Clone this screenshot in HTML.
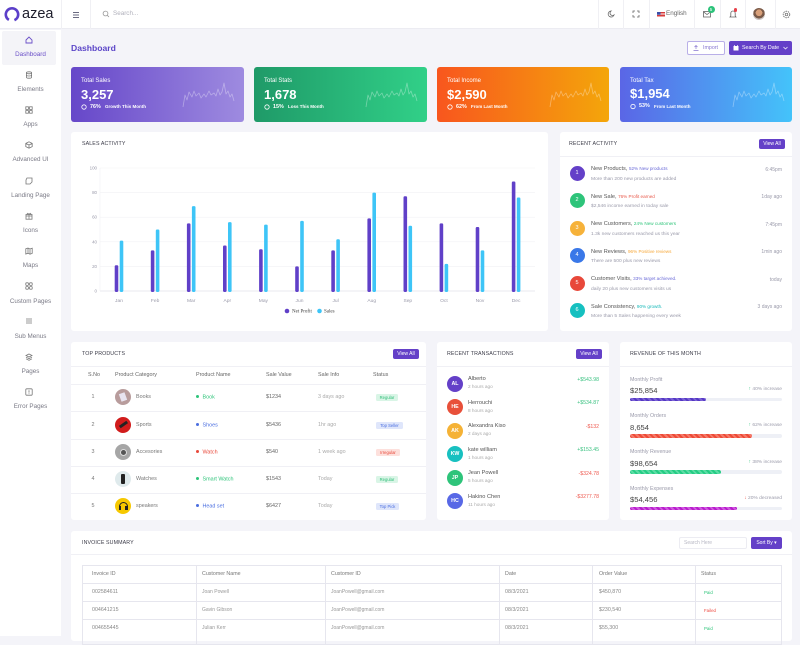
<!DOCTYPE html>
<html><head><meta charset="utf-8">
<style>
*{margin:0;padding:0;box-sizing:border-box}
body{width:800px;height:636px;overflow:hidden;background:#f4f4f9;font-family:"Liberation Sans",sans-serif;position:relative;color:#555}
.a{position:absolute;white-space:nowrap;line-height:1}
.c{position:absolute;background:#fff;border-radius:3px}
.tt{font-size:5.3px;color:#3d3d4a;letter-spacing:.1px}
.vl{position:absolute;top:0;width:1px;height:29px;background:#f0f0f4}
.sl{font-size:6.3px;color:#7a7a86;width:61px;text-align:center;left:0}
.btn{position:absolute;background:#6440c8;color:#fff;border-radius:2px;font-size:5px;text-align:center;line-height:10px;height:10px}
.hl{position:absolute;height:1px;background:#f0f0f5}
.w{color:#fff}
.bd{position:absolute;height:7px;border-radius:1.5px;font-size:4.2px;line-height:7px;text-align:center}
</style></head><body>

<!-- header -->
<div class="a" style="left:0;top:0;width:800px;height:29px;background:#fff;border-bottom:1px solid #ececf2"></div>
<svg class="a" style="left:3px;top:6px" width="18" height="18" viewBox="0 0 18 18"><circle cx="9" cy="8.5" r="6.2" fill="none" stroke="#5b3fc9" stroke-width="2.6" stroke-dasharray="33 6" transform="rotate(120 9 8.5)"/></svg>
<div class="a" style="left:22px;top:6.5px;font-size:14.5px;color:#1d1d2b">azea</div>
<div class="vl" style="left:61px"></div>
<div class="vl" style="left:90px"></div>
<svg class="a" style="left:72px;top:11px" width="8" height="8"><path d="M1 1.5h6M1 4h6M1 6.5h6" stroke="#6a6a80" stroke-width="1"/></svg>
<svg class="a" style="left:102px;top:10px" width="8" height="8"><circle cx="3.5" cy="3.5" r="2.4" fill="none" stroke="#999" stroke-width=".8"/><path d="M5.3 5.3L7 7" stroke="#999" stroke-width=".8"/></svg>
<div class="a" style="left:113px;top:11px;font-size:6.3px;color:#b0b0bb">Search...</div>

<div class="vl" style="left:598px"></div><div class="vl" style="left:623px"></div><div class="vl" style="left:649px"></div><div class="vl" style="left:694px"></div><div class="vl" style="left:720px"></div><div class="vl" style="left:745px"></div><div class="vl" style="left:775px"></div>
<svg class="a" style="left:607px;top:10px" width="8" height="8"><path d="M4 1A3 3 0 1 0 7 5 2.4 2.4 0 0 1 4 1z" fill="none" stroke="#666" stroke-width=".8"/></svg>
<svg class="a" style="left:632px;top:10px" width="8" height="8"><path d="M1 3V1h2M5 1h2v2M7 5v2H5M3 7H1V5" fill="none" stroke="#666" stroke-width=".8"/></svg>
<svg class="a" style="left:657px;top:11.5px" width="8" height="5"><rect width="8" height="5" fill="#d63a3a"/><path d="M0 1.25h8M0 2.75h8M0 4.25h8" stroke="#fff" stroke-width=".5"/><rect width="3.5" height="2.8" fill="#3b4ea8"/></svg>
<div class="a" style="left:666px;top:11px;font-size:6.3px;color:#666">English</div>
<svg class="a" style="left:703px;top:11px" width="8" height="7"><rect x=".5" y=".5" width="7" height="5.5" fill="none" stroke="#666" stroke-width=".8"/><path d="M.5 .8L4 3.5 7.5 .8" fill="none" stroke="#666" stroke-width=".7"/></svg>
<div class="a" style="left:707.5px;top:6px;width:7px;height:7px;border-radius:50%;background:#2cc37a;color:#fff;font-size:4.5px;line-height:7px;text-align:center">5</div>
<svg class="a" style="left:729px;top:10px" width="8" height="9"><path d="M4 1C2.5 1 1.8 2.3 1.8 3.5V6L1 7h6L6.2 6V3.5C6.2 2.3 5.5 1 4 1z" fill="none" stroke="#666" stroke-width=".8"/></svg>
<div class="a" style="left:733.5px;top:8px;width:3.5px;height:3.5px;border-radius:50%;background:#e8404a"></div>
<div class="a" style="left:753px;top:8px;width:12px;height:12px;border-radius:50%;background:radial-gradient(circle at 50% 40%,#d9a07a 0 35%,#7a5a48 36% 60%,#c9c2c0 61%)"></div>
<svg class="a" style="left:782px;top:10px" width="9" height="9"><circle cx="4.5" cy="4.5" r="3.3" fill="none" stroke="#666" stroke-width=".8" stroke-dasharray="1.6 .8"/><circle cx="4.5" cy="4.5" r="1.3" fill="none" stroke="#666" stroke-width=".7"/></svg>

<!-- sidebar -->
<div class="a" style="left:0;top:30px;width:61px;height:606px;background:#fff"></div>
<div class="a" style="left:2px;top:31px;width:54px;height:34px;background:#f4f4f8;border-radius:2px"></div>
<svg class="a" style="left:25px;top:36px" width="8" height="8"><path d="M1 4L4 1l3 3v3H1z" fill="none" stroke="#6a4fc8" stroke-width=".9"/></svg>
<div class="a sl" style="top:52px;color:#6a4fc8">Dashboard</div>
<svg class="a" style="left:25px;top:71px" width="8" height="8"><ellipse cx="4" cy="1.8" rx="2.6" ry="1" fill="none" stroke="#777" stroke-width=".8"/><path d="M1.4 1.8v4.4c0 .6 1.2 1 2.6 1s2.6-.4 2.6-1V1.8M1.4 4c0 .6 1.2 1 2.6 1s2.6-.4 2.6-1" fill="none" stroke="#777" stroke-width=".8"/></svg>
<div class="a sl" style="top:87px">Elements</div>
<svg class="a" style="left:25px;top:106px" width="8" height="8"><rect x=".8" y=".8" width="2.6" height="2.6" fill="none" stroke="#777" stroke-width=".8"/><rect x="4.6" y=".8" width="2.6" height="2.6" fill="none" stroke="#777" stroke-width=".8"/><rect x=".8" y="4.6" width="2.6" height="2.6" fill="none" stroke="#777" stroke-width=".8"/><rect x="4.6" y="4.6" width="2.6" height="2.6" fill="none" stroke="#777" stroke-width=".8"/></svg>
<div class="a sl" style="top:122px">Apps</div>
<svg class="a" style="left:25px;top:141px" width="8" height="8"><path d="M4 .8L7.2 2.4V5.6L4 7.2.8 5.6V2.4z M.8 2.4L4 4l3.2-1.6M4 4v3.2" fill="none" stroke="#777" stroke-width=".8"/></svg>
<div class="a sl" style="top:157px">Advanced UI</div>
<svg class="a" style="left:25px;top:177px" width="8" height="8"><path d="M2 1h5v4L5 7H1V3z" fill="none" stroke="#777" stroke-width=".8"/></svg>
<div class="a sl" style="top:193px">Landing Page</div>
<svg class="a" style="left:25px;top:212px" width="8" height="8"><rect x="1" y="2.5" width="6" height="4.7" fill="none" stroke="#777" stroke-width=".8"/><path d="M4 2.5v4.7M1 4h6M4 2.5C3 .5 1.5 1 2.5 2.5M4 2.5C5 .5 6.5 1 5.5 2.5" fill="none" stroke="#777" stroke-width=".7"/></svg>
<div class="a sl" style="top:228px">Icons</div>
<svg class="a" style="left:25px;top:247px" width="8" height="8"><path d="M.8 1.8L3 1l2 1 2.2-.8v5.2L5 7.2l-2-1-2.2.8zM3 1v5.2M5 2v5.2" fill="none" stroke="#777" stroke-width=".8"/></svg>
<div class="a sl" style="top:263px">Maps</div>
<svg class="a" style="left:25px;top:282px" width="8" height="8"><rect x=".8" y=".8" width="2.6" height="2.6" rx=".6" fill="none" stroke="#777" stroke-width=".8"/><rect x="4.6" y=".8" width="2.6" height="2.6" rx=".6" fill="none" stroke="#777" stroke-width=".8"/><rect x=".8" y="4.6" width="2.6" height="2.6" rx=".6" fill="none" stroke="#777" stroke-width=".8"/><rect x="4.6" y="4.6" width="2.6" height="2.6" rx=".6" fill="none" stroke="#777" stroke-width=".8"/></svg>
<div class="a sl" style="top:299px">Custom Pages</div>
<svg class="a" style="left:25px;top:317px" width="8" height="8"><path d="M1 2h6M1 4h6M1 6h6" stroke="#777" stroke-width=".8"/></svg>
<div class="a sl" style="top:334px">Sub Menus</div>
<svg class="a" style="left:25px;top:353px" width="8" height="8"><path d="M4 1L7 2.5 4 4 1 2.5z M1 4.2L4 5.7 7 4.2M1 5.8L4 7.3 7 5.8" fill="none" stroke="#777" stroke-width=".8"/></svg>
<div class="a sl" style="top:369px">Pages</div>
<svg class="a" style="left:25px;top:388px" width="8" height="8"><rect x=".8" y=".8" width="6.4" height="6.4" rx="1" fill="none" stroke="#777" stroke-width=".8"/><path d="M4 2.2v2.4M4 5.4v.6" stroke="#777" stroke-width=".8"/></svg>
<div class="a sl" style="top:404px">Error Pages</div>

<!-- title row -->
<div class="a" style="left:71px;top:43.5px;font-size:8.6px;font-weight:bold;color:#5b45c8">Dashboard</div>
<div class="a" style="left:687px;top:41px;width:38px;height:14px;border:1px solid #b9afe8;border-radius:2px;background:#fff"></div>
<svg class="a" style="left:693px;top:45px" width="6" height="6"><path d="M3 .5v3.5M1.5 2L3 .5 4.5 2M.5 5.5h5" fill="none" stroke="#8877d0" stroke-width=".7"/></svg>
<div class="a" style="left:703px;top:45.5px;font-size:5.3px;color:#8877d0">Import</div>
<div class="a" style="left:729px;top:41px;width:63px;height:14px;border-radius:2px;background:#6440c8"></div>
<svg class="a" style="left:733px;top:44.5px" width="6" height="6"><rect x=".5" y="1" width="5" height="4.5" fill="#fff"/><path d="M1.5 0v1.5M4.5 0v1.5" stroke="#fff" stroke-width=".7"/></svg>
<div class="a" style="left:742px;top:45.5px;font-size:5.3px;color:#fff">Search By Date</div>
<svg class="a" style="left:783px;top:46px" width="5" height="4"><path d="M.5 1L2.5 3 4.5 1" fill="none" stroke="#fff" stroke-width=".7"/></svg>

<!-- stat cards -->
<div class="c" style="left:71px;top:67px;width:173px;height:55px;background:linear-gradient(90deg,#6647c9,#9e8be0)"></div>
<div class="c" style="left:254px;top:67px;width:173px;height:55px;background:linear-gradient(90deg,#1f9a68,#31d088)"></div>
<div class="c" style="left:437px;top:67px;width:172px;height:55px;background:linear-gradient(90deg,#f8561e,#f4a60a)"></div>
<div class="c" style="left:620px;top:67px;width:172px;height:55px;background:linear-gradient(90deg,#5a66e6,#44c3fa)"></div>

<div class="a w" style="left:81px;top:78px;font-size:6px">Total Sales</div>
<div class="a w" style="left:81px;top:87.5px;font-size:13px;font-weight:bold">3,257</div>
<div class="a w" style="left:264px;top:78px;font-size:6px">Total Stats</div>
<div class="a w" style="left:264px;top:87.5px;font-size:13px;font-weight:bold">1,678</div>
<div class="a w" style="left:447px;top:78px;font-size:6px">Total Income</div>
<div class="a w" style="left:447px;top:87.5px;font-size:13px;font-weight:bold">$2,590</div>
<div class="a w" style="left:630px;top:77.5px;font-size:6px">Total Tax</div>
<div class="a w" style="left:630px;top:87px;font-size:13px;font-weight:bold">$1,954</div>

<svg class="a" style="left:0;top:0" width="800" height="130" viewBox="0 0 800 130">
<g fill="none" stroke="#fff" stroke-width=".8">
<circle cx="84" cy="107" r="2.2"/><circle cx="267" cy="107" r="2.2"/><circle cx="450" cy="107" r="2.2"/><circle cx="633" cy="106.5" r="2.2"/>
</g>
<g fill="none" stroke="rgba(255,255,255,.35)" stroke-width=".8" stroke-linejoin="round">
<polyline transform="translate(183,83)" points="0,24 2,12 4,17 6,9 9,14 11,8 13,13 16,10 18,15 21,11 23,14 26,8 28,12 31,10 33,13 35,6 37,12 39,9 41,0 43,11 45,8 47,14 49,11 51,18"/>
<polyline transform="translate(366,83)" points="0,24 2,12 4,17 6,9 9,14 11,8 13,13 16,10 18,15 21,11 23,14 26,8 28,12 31,10 33,13 35,6 37,12 39,9 41,0 43,11 45,8 47,14 49,11 51,18"/>
<polyline transform="translate(550,83)" points="0,24 2,12 4,17 6,9 9,14 11,8 13,13 16,10 18,15 21,11 23,14 26,8 28,12 31,10 33,13 35,6 37,12 39,9 41,0 43,11 45,8 47,14 49,11 51,18"/>
<polyline transform="translate(733,83)" points="0,24 2,12 4,17 6,9 9,14 11,8 13,13 16,10 18,15 21,11 23,14 26,8 28,12 31,10 33,13 35,6 37,12 39,9 41,0 43,11 45,8 47,14 49,11 51,18"/>
</g>
</svg>
<div class="a w" style="left:90px;top:104.5px;font-size:5.4px;font-weight:bold">76%</div>
<div class="a w" style="left:105px;top:105px;font-size:4.5px;font-weight:bold">Growth This Month</div>
<div class="a w" style="left:273px;top:104.5px;font-size:5.4px;font-weight:bold">15%</div>
<div class="a w" style="left:288px;top:105px;font-size:4.5px;font-weight:bold">Loss This Month</div>
<div class="a w" style="left:456px;top:104.5px;font-size:5.4px;font-weight:bold">62%</div>
<div class="a w" style="left:471px;top:105px;font-size:4.5px;font-weight:bold">From Last Month</div>
<div class="a w" style="left:639px;top:104px;font-size:5.4px;font-weight:bold">53%</div>
<div class="a w" style="left:654px;top:104.5px;font-size:4.5px;font-weight:bold">From Last Month</div>

<!-- sales activity -->
<div class="c" style="left:71px;top:132px;width:477px;height:199px"></div>
<div class="a tt" style="left:82px;top:141.5px">SALES ACTIVITY</div>
<svg class="a" style="left:71px;top:132px" width="477" height="199" viewBox="71 132 477 199">
<g stroke="#f1f1f4" stroke-width=".6">
<path d="M100 168H535M100 192.6H535M100 217.2H535M100 241.8H535M100 266.4H535"/>
</g>
<path d="M100 291H535" stroke="#e2e2ea" stroke-width=".7"/>
<path d="M100 168V291" stroke="#f1f1f4" stroke-width=".6"/>
<g font-family="Liberation Sans" font-size="4.4" fill="#9a9aaa" text-anchor="end">
<text x="97" y="169.5">100</text><text x="97" y="194">80</text><text x="97" y="218.7">60</text><text x="97" y="243.3">40</text><text x="97" y="267.9">20</text><text x="97" y="292.5">0</text>
</g>
<g font-family="Liberation Sans" font-size="4.9" fill="#9a9aaa" text-anchor="middle">
<text x="119" y="301.8">Jan</text><text x="155.1" y="301.8">Feb</text><text x="191.2" y="301.8">Mar</text><text x="227.3" y="301.8">Apr</text><text x="263.4" y="301.8">May</text><text x="299.5" y="301.8">Jun</text><text x="335.6" y="301.8">Jul</text><text x="371.7" y="301.8">Aug</text><text x="407.8" y="301.8">Sep</text><text x="443.9" y="301.8">Oct</text><text x="480" y="301.8">Nov</text><text x="516.1" y="301.8">Dec</text>
</g>
<g fill="#6040c8">
<rect x="114.7" y="265.2" width="3.6" height="26.8" rx="1.2"/>
<rect x="150.8" y="250.4" width="3.6" height="41.6" rx="1.2"/>
<rect x="186.9" y="223.4" width="3.6" height="68.6" rx="1.2"/>
<rect x="223" y="245.5" width="3.6" height="46.5" rx="1.2"/>
<rect x="259.1" y="249.2" width="3.6" height="42.8" rx="1.2"/>
<rect x="295.2" y="266.4" width="3.6" height="25.6" rx="1.2"/>
<rect x="331.3" y="250.4" width="3.6" height="41.6" rx="1.2"/>
<rect x="367.4" y="218.4" width="3.6" height="73.6" rx="1.2"/>
<rect x="403.5" y="196.3" width="3.6" height="95.7" rx="1.2"/>
<rect x="439.6" y="223.4" width="3.6" height="68.6" rx="1.2"/>
<rect x="475.7" y="227" width="3.6" height="65" rx="1.2"/>
<rect x="511.8" y="181.5" width="3.6" height="110.5" rx="1.2"/>
</g>
<g fill="#3ec5f7">
<rect x="119.7" y="240.6" width="3.6" height="51.4" rx="1.2"/>
<rect x="155.8" y="229.5" width="3.6" height="62.5" rx="1.2"/>
<rect x="191.9" y="206.1" width="3.6" height="85.9" rx="1.2"/>
<rect x="228" y="222.1" width="3.6" height="69.9" rx="1.2"/>
<rect x="264.1" y="224.6" width="3.6" height="67.4" rx="1.2"/>
<rect x="300.2" y="220.9" width="3.6" height="71.1" rx="1.2"/>
<rect x="336.3" y="239.3" width="3.6" height="52.7" rx="1.2"/>
<rect x="372.4" y="192.6" width="3.6" height="99.4" rx="1.2"/>
<rect x="408.5" y="225.8" width="3.6" height="66.2" rx="1.2"/>
<rect x="444.6" y="263.9" width="3.6" height="28.1" rx="1.2"/>
<rect x="480.7" y="250.4" width="3.6" height="41.6" rx="1.2"/>
<rect x="516.8" y="197.5" width="3.6" height="94.5" rx="1.2"/>
</g>
<circle cx="287" cy="311" r="2.3" fill="#6040c8"/>
<circle cx="319.5" cy="311" r="2.3" fill="#3ec5f7"/>
<g font-family="Liberation Serif" font-size="5" fill="#444">
<text x="292" y="312.7">Net Profit</text><text x="324" y="312.7">Sales</text>
</g>
</svg>

<!-- recent activity -->
<div class="c" style="left:560px;top:132px;width:232px;height:199px"></div>
<div class="a tt" style="left:569px;top:141.5px">RECENT ACTIVITY</div>
<div class="btn" style="left:759px;top:139px;width:26px">View All</div>
<div class="hl" style="left:560px;top:156px;width:232px"></div>

<div class="a" style="left:569.5px;top:165.5px;width:15px;height:15px;border-radius:50%;background:#6440c8;color:#fff;font-size:5.5px;line-height:15px;text-align:center">1</div>
<div class="a" style="left:569.5px;top:193px;width:15px;height:15px;border-radius:50%;background:#2ec47a;color:#fff;font-size:5.5px;line-height:15px;text-align:center">2</div>
<div class="a" style="left:569.5px;top:220.5px;width:15px;height:15px;border-radius:50%;background:#f6b23a;color:#fff;font-size:5.5px;line-height:15px;text-align:center">3</div>
<div class="a" style="left:569.5px;top:248px;width:15px;height:15px;border-radius:50%;background:#3a78e8;color:#fff;font-size:5.5px;line-height:15px;text-align:center">4</div>
<div class="a" style="left:569.5px;top:275.5px;width:15px;height:15px;border-radius:50%;background:#e8483a;color:#fff;font-size:5.5px;line-height:15px;text-align:center">5</div>
<div class="a" style="left:569.5px;top:303px;width:15px;height:15px;border-radius:50%;background:#16c0c0;color:#fff;font-size:5.5px;line-height:15px;text-align:center">6</div>

<div class="a" style="left:591px;top:167px;font-size:5.6px;color:#555">New Products, <span style="font-size:4.6px;color:#6a6ad8">52% New products</span></div>
<div class="a" style="left:591px;top:177.5px;font-size:4.9px;color:#9a9aaa">More than 200 new products are added</div>
<div class="a" style="left:591px;top:194.5px;font-size:5.6px;color:#555">New Sale, <span style="font-size:4.6px;color:#e8584a">76% Profit earned</span></div>
<div class="a" style="left:591px;top:205px;font-size:4.9px;color:#9a9aaa">$2,546 income earned in today sale</div>
<div class="a" style="left:591px;top:222px;font-size:5.6px;color:#555">New Customers, <span style="font-size:4.6px;color:#2ec47a">24% New customers</span></div>
<div class="a" style="left:591px;top:232.5px;font-size:4.9px;color:#9a9aaa">1.3k new customers reached us this year</div>
<div class="a" style="left:591px;top:249.5px;font-size:5.6px;color:#555">New Reviews, <span style="font-size:4.6px;color:#f6a83a">96% Positive reviews</span></div>
<div class="a" style="left:591px;top:260px;font-size:4.9px;color:#9a9aaa">There are 500 plus new reviews</div>
<div class="a" style="left:591px;top:277px;font-size:5.6px;color:#555">Customer Visits, <span style="font-size:4.6px;color:#6a6ad8">33% target achieved.</span></div>
<div class="a" style="left:591px;top:287.5px;font-size:4.9px;color:#9a9aaa">daily 20 plus new customers visits us</div>
<div class="a" style="left:591px;top:304.5px;font-size:5.6px;color:#555">Sale Consistency, <span style="font-size:4.6px;color:#16b8b8">90% growth.</span></div>
<div class="a" style="left:591px;top:315px;font-size:4.9px;color:#9a9aaa">More than 5 Sales happening every week</div>

<div class="a" style="right:18px;top:167.5px;font-size:5px;color:#9a9aaa">6:45pm</div>
<div class="a" style="right:18px;top:195px;font-size:5px;color:#9a9aaa">1day ago</div>
<div class="a" style="right:18px;top:222.5px;font-size:5px;color:#9a9aaa">7:45pm</div>
<div class="a" style="right:18px;top:250px;font-size:5px;color:#9a9aaa">1min ago</div>
<div class="a" style="right:18px;top:277.5px;font-size:5px;color:#9a9aaa">today</div>
<div class="a" style="right:18px;top:305px;font-size:5px;color:#9a9aaa">3 days ago</div>

<!-- top products -->
<div class="c" style="left:71px;top:342px;width:355px;height:178px"></div>
<div class="a tt" style="left:82px;top:351.5px">TOP PRODUCTS</div>
<div class="btn" style="left:393px;top:349px;width:26px">View All</div>
<div class="hl" style="left:71px;top:366px;width:355px"></div>
<div class="hl" style="left:71px;top:384px;width:355px"></div>
<div class="hl" style="left:71px;top:411px;width:355px"></div>
<div class="hl" style="left:71px;top:439px;width:355px"></div>
<div class="hl" style="left:71px;top:466px;width:355px"></div>
<div class="hl" style="left:71px;top:493px;width:355px"></div>
<div class="a" style="left:88px;top:372.5px;font-size:5.4px;color:#666">S.No</div>
<div class="a" style="left:115px;top:372.5px;font-size:5.4px;color:#666">Product Category</div>
<div class="a" style="left:196px;top:372.5px;font-size:5.4px;color:#666">Product Name</div>
<div class="a" style="left:266px;top:372.5px;font-size:5.4px;color:#666">Sale Value</div>
<div class="a" style="left:318px;top:372.5px;font-size:5.4px;color:#666">Sale Info</div>
<div class="a" style="left:373px;top:372.5px;font-size:5.4px;color:#666">Status</div>

<div class="a" style="left:91.5px;top:394.5px;font-size:5.4px;color:#777">1</div>
<div class="a" style="left:91.5px;top:422.5px;font-size:5.4px;color:#777">2</div>
<div class="a" style="left:91.5px;top:449.5px;font-size:5.4px;color:#777">3</div>
<div class="a" style="left:91.5px;top:476.5px;font-size:5.4px;color:#777">4</div>
<div class="a" style="left:91.5px;top:503.5px;font-size:5.4px;color:#777">5</div>

<div class="a" style="left:115px;top:389px;width:16px;height:16px;border-radius:50%;background:#b89c9c"><div style="position:absolute;left:5px;top:4px;width:6px;height:8px;background:#e8e4f0;transform:rotate(-20deg)"></div></div>
<div class="a" style="left:115px;top:417px;width:16px;height:16px;border-radius:50%;background:#d11c1c"><div style="position:absolute;left:4px;top:6px;width:9px;height:3px;background:#222;transform:rotate(-35deg)"></div></div>
<div class="a" style="left:115px;top:444px;width:16px;height:16px;border-radius:50%;background:#a6a6a6"><div style="position:absolute;left:4.5px;top:4.5px;width:7px;height:7px;border-radius:50%;background:#555;border:1.2px solid #ddd"></div></div>
<div class="a" style="left:115px;top:471px;width:16px;height:16px;border-radius:50%;background:#dfeaec"><div style="position:absolute;left:6px;top:3px;width:4px;height:10px;border-radius:1px;background:#222"></div></div>
<div class="a" style="left:115px;top:498px;width:16px;height:16px;border-radius:50%;background:#f6c800"><div style="position:absolute;left:3.5px;top:3.5px;width:9px;height:9px;border-radius:50%;border:1.5px solid #222;border-bottom-color:transparent"></div><div style="position:absolute;left:3.5px;top:8px;width:2.5px;height:4px;background:#222"></div><div style="position:absolute;left:10px;top:8px;width:2.5px;height:4px;background:#222"></div></div>

<div class="a" style="left:136px;top:394.5px;font-size:5.4px;color:#777">Books</div>
<div class="a" style="left:136px;top:422.5px;font-size:5.4px;color:#777">Sports</div>
<div class="a" style="left:136px;top:449.5px;font-size:5.4px;color:#777">Accesories</div>
<div class="a" style="left:136px;top:476.5px;font-size:5.4px;color:#777">Watches</div>
<div class="a" style="left:136px;top:503.5px;font-size:5.4px;color:#777">speakers</div>

<div class="a" style="left:196px;top:394.5px;font-size:5.4px;color:#2ec47a"><span style="display:inline-block;width:3px;height:3px;border-radius:50%;background:#2ec47a;margin-right:3.5px;vertical-align:.5px"></span>Book</div>
<div class="a" style="left:196px;top:422.5px;font-size:5.4px;color:#4a6ee0"><span style="display:inline-block;width:3px;height:3px;border-radius:50%;background:#4a6ee0;margin-right:3.5px;vertical-align:.5px"></span>Shoes</div>
<div class="a" style="left:196px;top:449.5px;font-size:5.4px;color:#e8483a"><span style="display:inline-block;width:3px;height:3px;border-radius:50%;background:#e8483a;margin-right:3.5px;vertical-align:.5px"></span>Watch</div>
<div class="a" style="left:196px;top:476.5px;font-size:5.4px;color:#2ec47a"><span style="display:inline-block;width:3px;height:3px;border-radius:50%;background:#2ec47a;margin-right:3.5px;vertical-align:.5px"></span>Smart Watch</div>
<div class="a" style="left:196px;top:503.5px;font-size:5.4px;color:#4a6ee0"><span style="display:inline-block;width:3px;height:3px;border-radius:50%;background:#4a6ee0;margin-right:3.5px;vertical-align:.5px"></span>Head set</div>

<div class="a" style="left:266px;top:394.5px;font-size:5.4px;color:#666">$1234</div>
<div class="a" style="left:266px;top:422.5px;font-size:5.4px;color:#666">$5436</div>
<div class="a" style="left:266px;top:449.5px;font-size:5.4px;color:#666">$540</div>
<div class="a" style="left:266px;top:476.5px;font-size:5.4px;color:#666">$1543</div>
<div class="a" style="left:266px;top:503.5px;font-size:5.4px;color:#666">$6427</div>

<div class="a" style="left:318px;top:394.5px;font-size:5.4px;color:#aaa">3 days ago</div>
<div class="a" style="left:318px;top:422.5px;font-size:5.4px;color:#aaa">1hr ago</div>
<div class="a" style="left:318px;top:449.5px;font-size:5.4px;color:#aaa">1 week ago</div>
<div class="a" style="left:318px;top:476.5px;font-size:5.4px;color:#aaa">Today</div>
<div class="a" style="left:318px;top:503.5px;font-size:5.4px;color:#aaa">Today</div>

<div class="bd" style="left:376px;top:394px;width:22px;background:#d9f5e6;color:#2ebd78">Regular</div>
<div class="bd" style="left:376px;top:421.5px;width:27px;background:#dfe6fb;color:#4a6ee0">Top Seller</div>
<div class="bd" style="left:376px;top:449px;width:24px;background:#fde0dc;color:#e8483a">Irregular</div>
<div class="bd" style="left:376px;top:476px;width:22px;background:#d9f5e6;color:#2ebd78">Regular</div>
<div class="bd" style="left:376px;top:503px;width:23px;background:#dfe6fb;color:#4a6ee0">Top Pick</div>

<!-- recent transactions -->
<div class="c" style="left:437px;top:342px;width:172px;height:178px"></div>
<div class="a tt" style="left:447px;top:351.5px">RECENT TRANSACTIONS</div>
<div class="btn" style="left:576px;top:349px;width:26px">View All</div>
<div class="hl" style="left:437px;top:366px;width:172px"></div>

<div class="a" style="left:447px;top:376px;width:16px;height:16px;border-radius:50%;background:#6440c8;color:#fff;font-size:5.3px;font-weight:bold;line-height:16px;text-align:center">AL</div>
<div class="a" style="left:447px;top:399px;width:16px;height:16px;border-radius:50%;background:#e8503a;color:#fff;font-size:5.3px;font-weight:bold;line-height:16px;text-align:center">HE</div>
<div class="a" style="left:447px;top:422.5px;width:16px;height:16px;border-radius:50%;background:#f5b236;color:#fff;font-size:5.3px;font-weight:bold;line-height:16px;text-align:center">AK</div>
<div class="a" style="left:447px;top:446px;width:16px;height:16px;border-radius:50%;background:#18c0c0;color:#fff;font-size:5.3px;font-weight:bold;line-height:16px;text-align:center">KW</div>
<div class="a" style="left:447px;top:469.5px;width:16px;height:16px;border-radius:50%;background:#2ec47a;color:#fff;font-size:5.3px;font-weight:bold;line-height:16px;text-align:center">JP</div>
<div class="a" style="left:447px;top:493px;width:16px;height:16px;border-radius:50%;background:#5868e6;color:#fff;font-size:5.3px;font-weight:bold;line-height:16px;text-align:center">HC</div>

<div class="a" style="left:468px;top:377px;font-size:5.6px;color:#555">Alberto</div>
<div class="a" style="left:468px;top:385px;font-size:4.7px;color:#aaa">2 hours ago</div>
<div class="a" style="left:468px;top:400.5px;font-size:5.6px;color:#555">Herrouchi</div>
<div class="a" style="left:468px;top:408.5px;font-size:4.7px;color:#aaa">8 hours ago</div>
<div class="a" style="left:468px;top:424px;font-size:5.6px;color:#555">Alexandra Kiso</div>
<div class="a" style="left:468px;top:432px;font-size:4.7px;color:#aaa">2 days ago</div>
<div class="a" style="left:468px;top:447.5px;font-size:5.6px;color:#555">kate william</div>
<div class="a" style="left:468px;top:455.5px;font-size:4.7px;color:#aaa">1 hours ago</div>
<div class="a" style="left:468px;top:471px;font-size:5.6px;color:#555">Jean Powell</div>
<div class="a" style="left:468px;top:479px;font-size:4.7px;color:#aaa">5 hours ago</div>
<div class="a" style="left:468px;top:494.5px;font-size:5.6px;color:#555">Hakino Chen</div>
<div class="a" style="left:468px;top:502.5px;font-size:4.7px;color:#aaa">11 hours ago</div>

<div class="a" style="right:201px;top:377.5px;font-size:5.2px;color:#3cc282">+$543.98</div>
<div class="a" style="right:201px;top:401px;font-size:5.2px;color:#3cc282">+$534.87</div>
<div class="a" style="right:201px;top:424.5px;font-size:5.2px;color:#ee5a50">-$132</div>
<div class="a" style="right:201px;top:448px;font-size:5.2px;color:#3cc282">+$153.45</div>
<div class="a" style="right:201px;top:471.5px;font-size:5.2px;color:#ee5a50">-$324.78</div>
<div class="a" style="right:201px;top:495px;font-size:5.2px;color:#ee5a50">-$3277.78</div>

<!-- revenue -->
<div class="c" style="left:620px;top:342px;width:172px;height:178px"></div>
<div class="a tt" style="left:630px;top:351.5px">REVENUE OF THIS MONTH</div>
<div class="hl" style="left:620px;top:366px;width:172px"></div>

<div class="a" style="left:630px;top:377.5px;font-size:5.3px;color:#9a9aaa">Monthly Profit</div>
<div class="a" style="left:630px;top:387px;font-size:7.6px;color:#444">$25,854</div>
<div class="a" style="right:18px;top:387.5px;font-size:4.9px;color:#9a9aaa"><span style="color:#2ec47a;font-weight:bold">↑</span> 40% increase</div>
<div class="a" style="left:630px;top:397.5px;width:152px;height:3.5px;background:#eef0f6;border-radius:2px"></div>
<div class="a" style="left:630px;top:397.5px;width:76px;height:3.5px;border-radius:2px;background:repeating-linear-gradient(45deg,#5438c4 0 2px,#7b62d6 2px 4px)"></div>

<div class="a" style="left:630px;top:413.5px;font-size:5.3px;color:#9a9aaa">Monthly Orders</div>
<div class="a" style="left:630px;top:423.5px;font-size:7.6px;color:#444">8,654</div>
<div class="a" style="right:18px;top:424px;font-size:4.9px;color:#9a9aaa"><span style="color:#2ec47a;font-weight:bold">↑</span> 62% increase</div>
<div class="a" style="left:630px;top:434px;width:152px;height:3.5px;background:#eef0f6;border-radius:2px"></div>
<div class="a" style="left:630px;top:434px;width:122px;height:3.5px;border-radius:2px;background:repeating-linear-gradient(45deg,#ee4a36 0 2px,#f57a6a 2px 4px)"></div>

<div class="a" style="left:630px;top:450px;font-size:5.3px;color:#9a9aaa">Monthly Revenue</div>
<div class="a" style="left:630px;top:459.5px;font-size:7.6px;color:#444">$98,654</div>
<div class="a" style="right:18px;top:460.5px;font-size:4.9px;color:#9a9aaa"><span style="color:#2ec47a;font-weight:bold">↑</span> 38% increase</div>
<div class="a" style="left:630px;top:470px;width:152px;height:3.5px;background:#eef0f6;border-radius:2px"></div>
<div class="a" style="left:630px;top:470px;width:91px;height:3.5px;border-radius:2px;background:repeating-linear-gradient(45deg,#24cc84 0 2px,#5cdca4 2px 4px)"></div>

<div class="a" style="left:630px;top:486.5px;font-size:5.3px;color:#9a9aaa">Monthly Expenses</div>
<div class="a" style="left:630px;top:496px;font-size:7.6px;color:#444">$54,456</div>
<div class="a" style="right:18px;top:496.5px;font-size:4.9px;color:#9a9aaa"><span style="color:#ee5a50;font-weight:bold">↓</span> 20% decreased</div>
<div class="a" style="left:630px;top:506.5px;width:152px;height:3.5px;background:#eef0f6;border-radius:2px"></div>
<div class="a" style="left:630px;top:506.5px;width:107px;height:3.5px;border-radius:2px;background:repeating-linear-gradient(45deg,#b81ccc 0 2px,#d05ae0 2px 4px)"></div>

<!-- invoice summary -->
<div class="c" style="left:71px;top:531px;width:721px;height:110px"></div>
<div class="a tt" style="left:82px;top:540.5px">INVOICE SUMMARY</div>
<div class="a" style="left:679px;top:537px;width:68px;height:12px;border:1px solid #ececf2;border-radius:2px;background:#fff"></div>
<div class="a" style="left:684px;top:540.5px;font-size:5px;color:#b8b8c4">Search Here</div>
<div class="btn" style="left:751px;top:537px;width:31px;height:12px;line-height:12px">Sort By &#9662;</div>
<div class="hl" style="left:71px;top:554px;width:721px"></div>

<div class="a" style="left:82px;top:565px;width:700px;height:80px;border:1px solid #e6e6ee"></div>
<div class="hl" style="left:82px;top:583px;width:700px;background:#e6e6ee"></div>
<div class="hl" style="left:82px;top:601px;width:700px;background:#e6e6ee"></div>
<div class="hl" style="left:82px;top:619px;width:700px;background:#e6e6ee"></div>
<div class="a" style="left:196px;top:565px;width:1px;height:80px;background:#e6e6ee"></div>
<div class="a" style="left:325px;top:565px;width:1px;height:80px;background:#e6e6ee"></div>
<div class="a" style="left:499px;top:565px;width:1px;height:80px;background:#e6e6ee"></div>
<div class="a" style="left:592px;top:565px;width:1px;height:80px;background:#e6e6ee"></div>
<div class="a" style="left:695px;top:565px;width:1px;height:80px;background:#e6e6ee"></div>

<div class="a" style="left:92px;top:571.5px;font-size:5.3px;color:#777">Invoice ID</div>
<div class="a" style="left:202px;top:571.5px;font-size:5.3px;color:#777">Customer Name</div>
<div class="a" style="left:331px;top:571.5px;font-size:5.3px;color:#777">Customer ID</div>
<div class="a" style="left:505px;top:571.5px;font-size:5.3px;color:#777">Date</div>
<div class="a" style="left:599px;top:571.5px;font-size:5.3px;color:#777">Order Value</div>
<div class="a" style="left:701px;top:571.5px;font-size:5.3px;color:#777">Status</div>

<div class="a" style="left:92px;top:590px;font-size:5.3px;color:#888">002584611</div>
<div class="a" style="left:202px;top:590px;font-size:5px;color:#999">Joan Powell</div>
<div class="a" style="left:331px;top:590px;font-size:5px;color:#999">JoanPowell@gmail.com</div>
<div class="a" style="left:505px;top:590px;font-size:5.3px;color:#888">08/3/2021</div>
<div class="a" style="left:599px;top:590px;font-size:5.3px;color:#888">$450,870</div>
<div class="a" style="left:704px;top:590.5px;font-size:4.4px;color:#2ec47a">Paid</div>

<div class="a" style="left:92px;top:608px;font-size:5.3px;color:#888">004641215</div>
<div class="a" style="left:202px;top:608px;font-size:5px;color:#999">Gavin Gibson</div>
<div class="a" style="left:331px;top:608px;font-size:5px;color:#999">JoanPowell@gmail.com</div>
<div class="a" style="left:505px;top:608px;font-size:5.3px;color:#888">08/3/2021</div>
<div class="a" style="left:599px;top:608px;font-size:5.3px;color:#888">$230,540</div>
<div class="a" style="left:704px;top:608.5px;font-size:4.4px;color:#ee4a40">Failed</div>

<div class="a" style="left:92px;top:626px;font-size:5.3px;color:#888">004655445</div>
<div class="a" style="left:202px;top:626px;font-size:5px;color:#999">Julian Kerr</div>
<div class="a" style="left:331px;top:626px;font-size:5px;color:#999">JoanPowell@gmail.com</div>
<div class="a" style="left:505px;top:626px;font-size:5.3px;color:#888">08/3/2021</div>
<div class="a" style="left:599px;top:626px;font-size:5.3px;color:#888">$55,300</div>
<div class="a" style="left:704px;top:626.5px;font-size:4.4px;color:#2ec47a">Paid</div>

</body></html>
